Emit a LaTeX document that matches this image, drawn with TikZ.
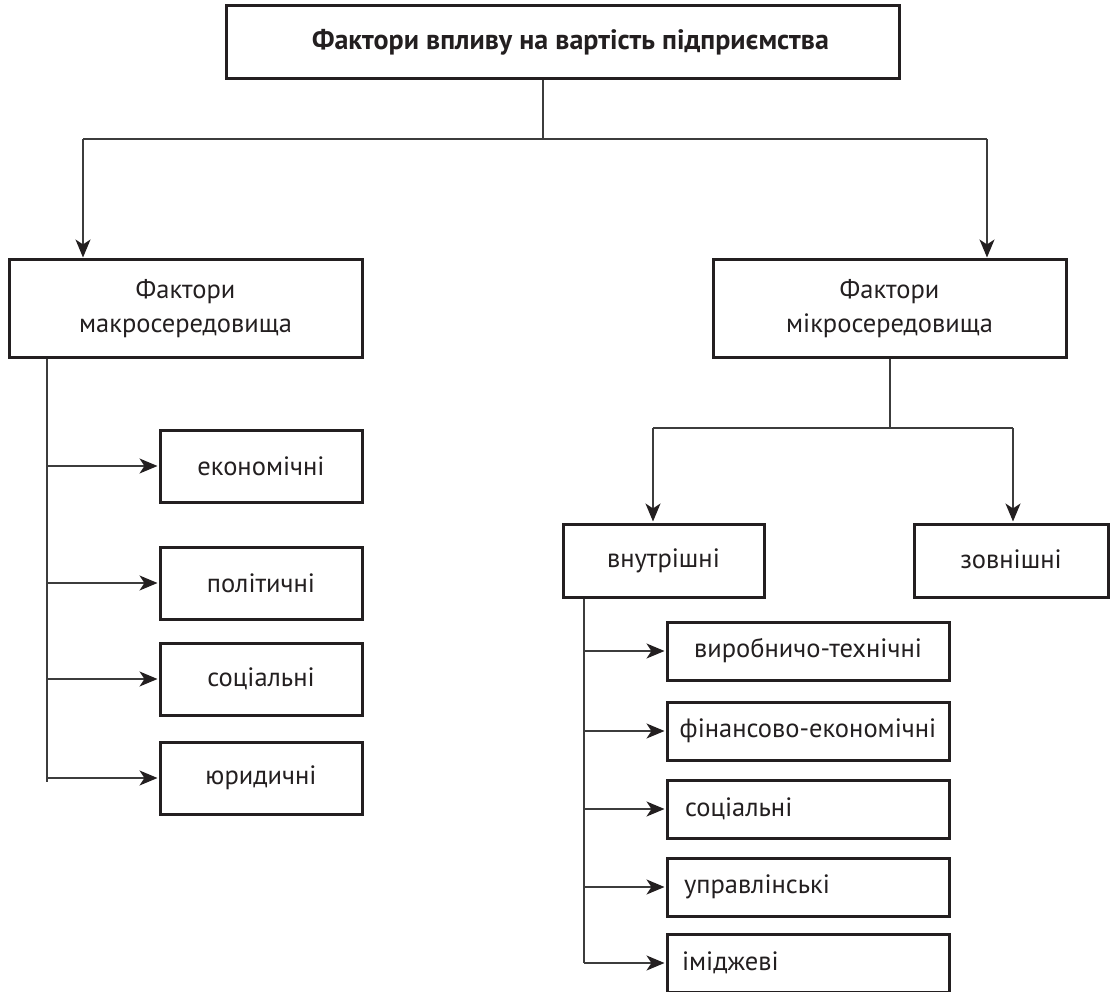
\documentclass[tikz,border=0pt]{standalone}
\usepackage{fontspec}
\setmainfont{PT Sans}
\usetikzlibrary{arrows.meta}
\definecolor{boxc}{HTML}{231F20}
\definecolor{linec}{HTML}{3C3C3C}
\tikzset{
  box/.style={draw=boxc, line width=3pt, inner sep=0pt, align=center,
    font=\fontsize{26.5}{34}\selectfont, text=boxc},
  conn/.style={draw=linec, line width=1.4pt},
  arr/.style={conn, -{Stealth[length=18pt,width=15pt,inset=5pt,color=boxc]}, shorten >=1pt},
}
\begin{document}
\begin{tikzpicture}[x=1pt,y=-1pt]
\useasboundingbox (0,0) rectangle (1111,992);
% top
\node[box, minimum width=673pt, minimum height=73pt, font=\bfseries\fontsize{28}{34}\selectfont] (top) at (562.5,42.5) {\hspace*{16pt}Фактори впливу на вартість підприємства};
\node[box, minimum width=353pt, minimum height=97pt] (macro) at (185.5,308.5) {Фактори\\макросередовища};
\node[box, minimum width=353pt, minimum height=97pt] (micro) at (889.5,308.5) {Фактори\\мікросередовища};
% left children
\node[box, minimum width=202pt, minimum height=72pt] (econ) at (261,466) {економічні};
\node[box, minimum width=202pt, minimum height=72pt] (pol) at (261,583) {політичні};
\node[box, minimum width=202pt, minimum height=72pt] (soc) at (261,679) {соціальні};
\node[box, minimum width=202pt, minimum height=72pt] (jur) at (261,778) {юридичні};
% right level 2
\node[box, minimum width=201pt, minimum height=73pt] (inner) at (663.5,560.5) {внутрішні};
\node[box, minimum width=194pt, minimum height=73pt] (outer) at (1011,560.5) {\raisebox{3pt}{зовнішні}};
% right children
\node[box, minimum width=282pt, minimum height=58pt] (r1) at (808,651) {виробничо-технічні};
\node[box, minimum width=282pt, minimum height=58pt] (r2) at (808,731) {фінансово-економічні};
\node[box, minimum width=282pt, minimum height=58pt, text width=246pt, align=left] (r3) at (808,809) {соціальні};
\node[box, minimum width=282pt, minimum height=58pt, text width=248pt, align=left] (r4) at (808,887) {управлінські};
\node[box, minimum width=282pt, minimum height=58pt, text width=252pt, align=left] (r5) at (808,963) {іміджеві};
% coordinates
\coordinate (tj) at (543,139);
\coordinate (tl) at (83,139);
\coordinate (tr) at (987,139);
\coordinate (lt) at (47,782);
\coordinate (mj) at (890,428);
\coordinate (ml) at (653,428);
\coordinate (mr) at (1013,428);
\coordinate (rt) at (584,963);
% connectors
\draw[conn] (top.south -| tj) -- (tj);
\draw[conn] (tl) -- (tr);
\draw[arr] (tl) -- (tl |- macro.north);
\draw[arr] (tr) -- (tr |- micro.north);
\draw[conn] (macro.south -| lt) -- (lt);
\foreach \n in {econ,pol,soc,jur}{
  \draw[arr] (lt |- \n.west) -- (\n.west);
}
\draw[conn] (micro.south -| mj) -- (mj);
\draw[conn] (ml) -- (mr);
\draw[arr] (ml) -- (ml |- inner.north);
\draw[arr] (mr) -- (mr |- outer.north);
\draw[conn] (inner.south -| rt) -- (rt);
\foreach \n in {r1,r2,r3,r4,r5}{
  \draw[arr] (rt |- \n.west) -- (\n.west);
}
\end{tikzpicture}
\end{document}
